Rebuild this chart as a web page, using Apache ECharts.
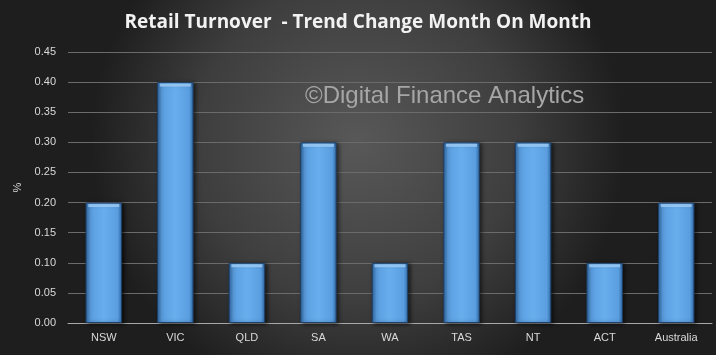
<!DOCTYPE html>
<html>
<head>
<meta charset="utf-8">
<script src="https://cdn.jsdelivr.net/npm/echarts@6/dist/echarts.min.js"></script>
<style>
html, body { margin: 0; padding: 0; background: #2a2a2a; }
#main { width: 716px; height: 355px; }
</style>
</head>
<body>
<div id="main"></div>
<script>
// regions and the trend change month on month (%)
var regions = ['NSW', 'VIC', 'QLD', 'SA', 'WA', 'TAS', 'NT', 'ACT', 'Australia'];
var change = [0.2, 0.4, 0.1, 0.3, 0.1, 0.3, 0.3, 0.1, 0.2];
var yTicks = { min: 0, max: 0.45, step: 0.05 };

var myChart = echarts.init(document.getElementById('main'));

var option = {
	animation : false,
	backgroundColor : {
		type : 'radial', x : 0.5, y : 0.4, r : 0.75,
		colorStops : [ { offset : 0, color : '#585858' }, { offset : 0.6, color : '#3e3e3e' }, { offset : 1, color : '#1e1e1e' } ]
	},
	title : {
		text : 'Retail Turnover  - Trend Change Month On Month',
		left : 'center',
		top : 8,
		textStyle : { color : '#f2f2f2', fontSize : 19, fontWeight : 'bold', fontFamily : 'Open Sans' }
	},
	graphic : [ {
		type : 'text',
		left : 305,
		top : 84,
		style : { text : '\u00A9Digital Finance Analytics', fill : '#a6a6a6', font : '24px "Liberation Sans"' }
	} ],
	grid : { left : 68, right : 4, top : 52, bottom : 32 },
	xAxis : {
		type : 'category',
		data : regions,
		axisTick : { show : false },
		axisLine : { lineStyle : { color : '#a8a8a8', width : 1 } },
		axisLabel : { color : '#d9d9d9', fontSize : 11, fontFamily : 'Liberation Sans', margin : 9 }
	},
	yAxis : {
		type : 'value',
		min : yTicks.min,
		max : yTicks.max,
		interval : yTicks.step,
		name : '%',
		nameLocation : 'middle',
		nameGap : 40,
		nameTextStyle : { color : '#d9d9d9', fontSize : 11 },
		axisLine : { show : false },
		axisTick : { show : false },
		axisLabel : {
			color : '#d9d9d9', fontSize : 11, fontFamily : 'Liberation Sans', margin : 12,
			formatter : function(v) { return v.toFixed(2); }
		},
		splitLine : { lineStyle : { color : '#6b6b6b', width : 1 } }
	},
	series : [ {
		type : 'bar',
		data : change,
		barWidth : '51%',
		itemStyle : {
			color : {
				type : 'linear', x : 0, y : 0, x2 : 1, y2 : 0,
				colorStops : [ { offset : 0, color : '#2f6aa8' }, { offset : 0.12, color : '#5a9ee0' },
						{ offset : 0.5, color : '#68aeed' }, { offset : 0.88, color : '#5a9ee0' }, { offset : 1, color : '#2f6aa8' } ]
			},
			borderColor : '#1f3f66',
			borderWidth : 1,
			shadowColor : 'rgba(0,0,0,0.6)',
			shadowBlur : 4,
			shadowOffsetX : 2,
			shadowOffsetY : 1
		}
	}, {
		// light top bevel on each bar
		type : 'scatter',
		data : change,
		symbol : 'rect',
		symbolSize : [ 31, 3 ],
		symbolOffset : [ 0, 3 ],
		itemStyle : { color : '#9fcdf7' },
		silent : true
	} ]
};
myChart.setOption(option);
</script>
</body>
</html>
